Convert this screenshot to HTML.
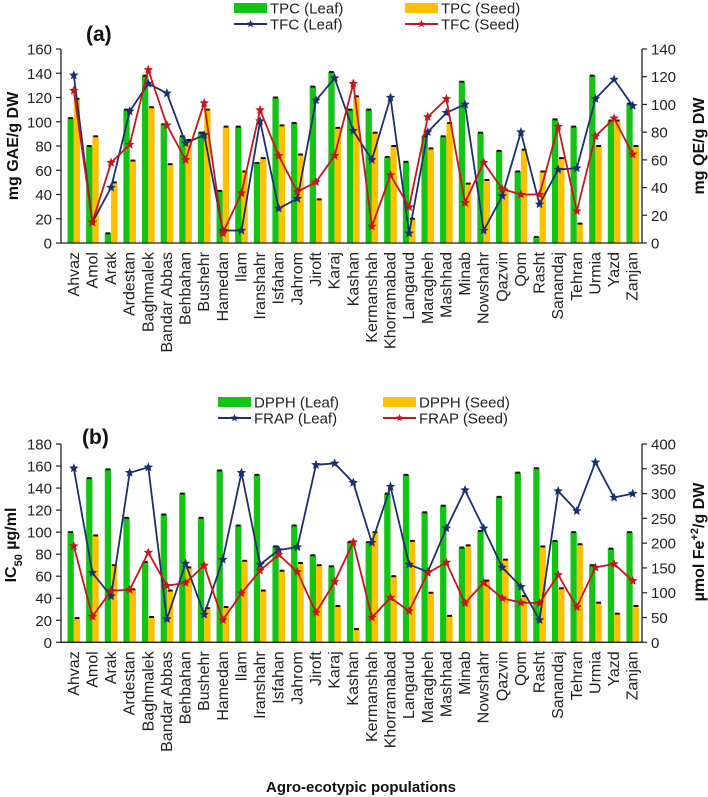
<!DOCTYPE html>
<html><head><meta charset="utf-8"><style>
html,body{margin:0;padding:0;background:#fff;}
svg{display:block;font-family:"Liberation Sans",Arial,sans-serif;}
</style></head><body>
<svg id="chart" width="708" height="797" viewBox="0 0 708 797" xmlns="http://www.w3.org/2000/svg"></svg>
<script>
const cats = ["Ahvaz","Amol","Arak","Ardestan","Baghmalek","Bandar Abbas","Behbahan","Bushehr","Hamedan","Ilam","Iranshahr","Isfahan","Jahrom","Jiroft","Karaj","Kashan","Kermanshah","Khorramabad","Langarud","Maragheh","Mashhad","Minab","Nowshahr","Qazvin","Qom","Rasht","Sanandaj","Tehran","Urmia","Yazd","Zanjan"];
const tpcLeaf = [103,80,8,110,138,98,88,91,43,96,66,120,99,129,141,110,110,71,67,88,88,133,91,76,59,5,102,96,138,101,115];
const tpcSeed = [119,88,50,68,112,65,85,110,96,59,70,97,73,36,95,121,91,80,20,78,99,49,52,44,77,59,70,16,80,101,80];
const tfcLeaf = [121,15,40,95,115,108,72,78,9,9,88,25,32,103,119,81,60,105,7,80,94,100,9,34,80,28,53,54,104,118,99];
const tfcSeed = [110,15,58,71,125,85,60,101,7,36,96,63,37,44,63,115,12,49,26,91,104,29,58,39,35,35,84,23,77,90,64];
const dpphLeaf = [100,149,157,113,73,116,135,113,156,106,152,87,106,79,69,91,91,135,152,118,124,86,101,132,154,158,92,100,70,85,100];
const dpphSeed = [22,97,70,48,23,47,68,31,32,74,47,65,72,70,33,12,100,60,92,45,24,88,56,75,42,87,49,89,36,26,33];
const frapLeaf = [351,140,93,342,353,47,159,56,167,342,157,186,192,358,361,322,201,314,157,142,230,307,230,151,112,45,305,265,363,292,300];
const frapSeed = [194,52,104,106,181,114,120,155,45,99,145,177,142,60,122,202,50,90,63,140,161,79,120,89,80,79,136,71,151,158,124];
const ticksALeft = [0,20,40,60,80,100,120,140,160];
const ticksARight = [0,20,40,60,80,100,120,140];
const ticksBLeft = [0,20,40,60,80,100,120,140,160,180];
const ticksBRight = [0,50,100,150,200,250,300,350,400];

const NS = "http://www.w3.org/2000/svg";
const svg = document.getElementById("chart");
const GREEN = "#14c414", YEL = "#ffc000", BLUE = "#1c2f6e", RED = "#c8161d";
function mk(tag, attrs, parent) {
  const e = document.createElementNS(NS, tag);
  for (const k in attrs) e.setAttribute(k, attrs[k]);
  (parent || svg).appendChild(e);
  return e;
}
function xc(i) { return 73.8 + i * 18.63; }
const X_L = 61, X_R = 642;

function starPts(cx, cy, r) {
  const p = [];
  for (let k = 0; k < 10; k++) {
    const a = -Math.PI / 2 + k * Math.PI / 5;
    const rr = k % 2 ? r * 0.45 : r;
    p.push((cx + rr * Math.cos(a)).toFixed(1) + "," + (cy + rr * Math.sin(a)).toFixed(1));
  }
  return p.join(" ");
}

function panel(cfg) {
  const g = mk("g", {});
  
  
  const yL = v => cfg.y0 - v * cfg.kL;
  const yR = v => cfg.y0 - v * cfg.kR;
  // bars
  cats.forEach((c, i) => {
    const x = xc(i);
    const b1 = mk("rect", {x: x - 6.3, y: yL(cfg.bar1[i]), width: 6.3, height: cfg.bar1[i] * cfg.kL, fill: GREEN}, g);
    
    
    const b2 = mk("rect", {x: x, y: yL(cfg.bar2[i]), width: 6.3, height: cfg.bar2[i] * cfg.kL, fill: YEL}, g);
    
    
    const e1 = mk("line", {x1: x - 5.6, x2: x - 0.8, y1: yL(cfg.bar1[i]), y2: yL(cfg.bar1[i]), stroke: "#111", "stroke-width": 2}, g);
    
    
    const e2 = mk("line", {x1: x + 0.8, x2: x + 5.6, y1: yL(cfg.bar2[i]), y2: yL(cfg.bar2[i]), stroke: "#111", "stroke-width": 2}, g);
    
    
  });
  // lines
  [[cfg.line1, BLUE, cfg.key3], [cfg.line2, RED, cfg.key4]].forEach(([arr, col, key]) => {
    const pts = arr.map((v, i) => xc(i).toFixed(1) + "," + yR(v).toFixed(1)).join(" ");
    const pl = mk("polyline", {points: pts, fill: "none", stroke: col, "stroke-width": 1.8}, g);
    
    
    arr.forEach((v, i) => {
      const m = mk("polygon", {points: starPts(xc(i), yR(v), 5), fill: col}, g);
      
      
    });
  });
  // axes
  const ax = mk("path", {d: `M${X_L},${cfg.yTop}V${cfg.y0}H${X_R}V${cfg.yTop}`, fill: "none", stroke: "#222", "stroke-width": 1.3}, g);
  
  
  cfg.tL.forEach(v => {
    mk("line", {x1: X_L - 5, x2: X_L, y1: yL(v), y2: yL(v), stroke: "#222", "stroke-width": 1.2}, g);
    const t = mk("text", {x: X_L - 9, y: yL(v) + 5.5, "text-anchor": "end", "font-size": 15, fill: "#222"}, g);
    t.textContent = v;
    
    
  });
  cfg.tR.forEach(v => {
    mk("line", {x1: X_R, x2: X_R + 5, y1: yR(v), y2: yR(v), stroke: "#222", "stroke-width": 1.2}, g);
    const t = mk("text", {x: X_R + 9, y: yR(v) + 5.5, "text-anchor": "start", "font-size": 15, fill: "#222"}, g);
    t.textContent = v;
    
    
  });
  cats.forEach((c, i) => {
    const x = xc(i) + 5;
    const t = mk("text", {x: x, y: cfg.y0 + 9, "text-anchor": "end", "font-size": 16, fill: "#222", transform: `rotate(-90 ${x} ${cfg.y0 + 9})`}, g);
    t.textContent = c;
    
    
  });
  // legend
  const lg = mk("g", {}, g);
  
  
  const ents = [
    [cfg.lx1, cfg.ly1, "rect", GREEN, cfg.lab1],
    [cfg.lx2, cfg.ly1, "rect", YEL, cfg.lab2],
    [cfg.lx1, cfg.ly2, "line", BLUE, cfg.lab3],
    [cfg.lx2, cfg.ly2, "line", RED, cfg.lab4]];
  ents.forEach(([lx, ly, kind, col, lab]) => {
    const eg = mk("g", {}, lg);
    
    
    if (kind === "rect") mk("rect", {x: lx, y: ly - 5, width: 33, height: 10, fill: col}, eg);
    else {
      mk("line", {x1: lx, x2: lx + 33, y1: ly, y2: ly, stroke: col, "stroke-width": 2}, eg);
      mk("polygon", {points: starPts(lx + 16.5, ly, 4), fill: col}, eg);
    }
    const t = mk("text", {x: lx + 36, y: ly + 5.5, "font-size": 15, fill: "#222"}, eg);
    t.textContent = lab;
  });
  const pl = mk("text", {x: cfg.px, y: cfg.py, "font-size": 21, "font-weight": "bold", fill: "#111"}, g);
  pl.textContent = cfg.panel;
  
  
  const yt = mk("text", {x: 0, y: 0, "text-anchor": "middle", "font-size": 16, "font-weight": "bold", fill: "#111", transform: `translate(${cfg.ylx},${cfg.ylc}) rotate(-90)`}, g);
  yt.innerHTML = cfg.yLeftTitle;
  
  
  const yt2 = mk("text", {x: 0, y: 0, "text-anchor": "middle", "font-size": 16, "font-weight": "bold", fill: "#111", transform: `translate(${cfg.yrx},${cfg.yrc}) rotate(-90)`}, g);
  yt2.innerHTML = cfg.yRightTitle;
  
  
}

panel({name: "panel-a", y0: 243, yTop: 49, kL: 194 / 160, kR: 194 / 140,
  bar1: tpcLeaf, bar2: tpcSeed, line1: tfcLeaf, line2: tfcSeed,
  key1: "tpc-leaf", key2: "tpc-seed", key3: "tfc-leaf", key4: "tfc-seed",
  tL: ticksALeft, tR: ticksARight,
  lx1: 234, lx2: 405, ly1: 8, ly2: 24,
  lab1: "TPC (Leaf)", lab2: "TPC (Seed)", lab3: "TFC (Leaf)", lab4: "TFC (Seed)",
  panel: "(a)", px: 86, py: 41,
  yLeftTitle: "mg GAE/g DW", ylx: 18, ylc: 146,
  yRightTitle: "mg QE/g DW", yrx: 704, yrc: 146});

panel({name: "panel-b", y0: 642.3, yTop: 444, kL: 198.3 / 180, kR: 198.3 / 400,
  bar1: dpphLeaf, bar2: dpphSeed, line1: frapLeaf, line2: frapSeed,
  key1: "dpph-leaf", key2: "dpph-seed", key3: "frap-leaf", key4: "frap-seed",
  tL: ticksBLeft, tR: ticksBRight,
  lx1: 218, lx2: 383, ly1: 402, ly2: 418,
  lab1: "DPPH (Leaf)", lab2: "DPPH (Seed)", lab3: "FRAP (Leaf)", lab4: "FRAP (Seed)",
  panel: "(b)", px: 82, py: 444,
  yLeftTitle: 'IC<tspan baseline-shift="sub" font-size="11">50</tspan> µg/ml', ylx: 16, ylc: 545,
  yRightTitle: 'µmol Fe<tspan baseline-shift="super" font-size="11">+2</tspan>/g DW', yrx: 704, yrc: 542});

const xt = mk("text", {x: 361, y: 792, "text-anchor": "middle", "font-size": 15, "font-weight": "bold", fill: "#111"});
xt.textContent = "Agro-ecotypic populations";


</script>
</body></html>
